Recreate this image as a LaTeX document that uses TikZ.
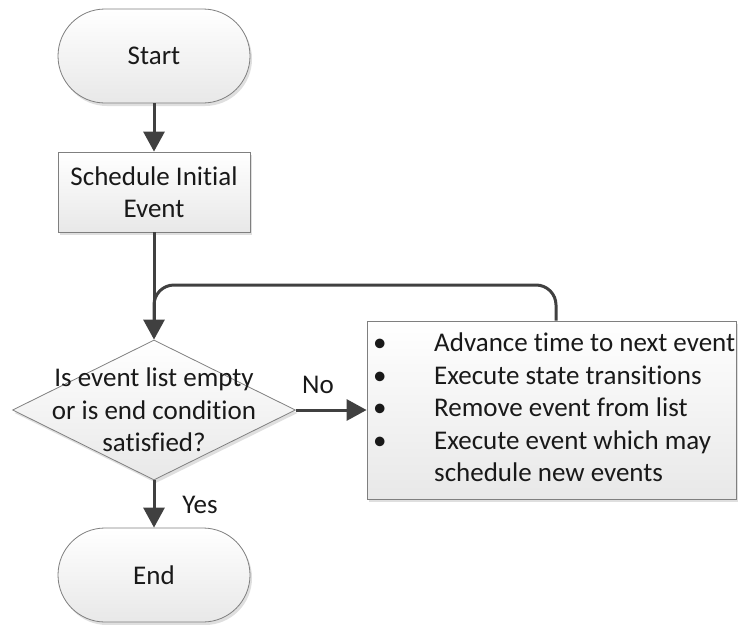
\documentclass[tikz,border=0pt]{standalone}
\usepackage{fontspec}
\setmainfont[Ligatures=NoCommon]{Carlito}
\usetikzlibrary{shapes.geometric,arrows.meta,shadows,calc}
\definecolor{edge}{HTML}{7F7F7F}
\definecolor{flowc}{HTML}{404040}
\begin{document}
\begin{tikzpicture}[x=1pt,y=-1pt,
  every node/.style={font=\fontsize{27}{32.5}\selectfont, text=black!90},
  boxfill/.style={top color=white, bottom color=black!9, draw=edge, line width=0.8pt,
    drop shadow={shadow xshift=2pt, shadow yshift=-3pt, fill=black!25, opacity=0.5}},
  terminal/.style={boxfill, rectangle, rounded corners=47pt, minimum width=192pt, minimum height=94pt, inner sep=0pt},
  process/.style={boxfill, rectangle, minimum width=192pt, minimum height=80pt, inner sep=0pt, align=center},
  decision/.style={boxfill, diamond, minimum width=283pt, minimum height=140pt, inner sep=0pt},
  flow/.style={draw=flowc, line width=3pt},
  flowarrow/.style={flow, -{Triangle[length=20pt,width=21pt]}},
  tag/.style={inner sep=0pt}]
  \useasboundingbox (0,0) rectangle (738,624);

  \node[terminal] (start) at (154,56) {Start};
  \node[process] (sched) at (154,192) {Schedule Initial\\Event};
  \node[decision] (dec) at (154,410) {};
  \node[tag, align=center] (dectext) at (154,410) {Is event list empty\\or is end condition\\satisfied?};
  \node[boxfill, rectangle, minimum width=369pt, minimum height=178pt, inner sep=0pt] (evt) at (551.5,410) {};
  \node[tag, anchor=west, align=left] (evttext) at (373,410) {%
    \begin{tabular}{@{}p{61pt}@{}l@{}}
      \textbullet & Advance time to next event\\
      \textbullet & Execute state transitions\\
      \textbullet & Remove event from list\\
      \textbullet & Execute event which may\\
                  & schedule new events
    \end{tabular}};
  \node[terminal] (end) at (154,575) {End};

  \coordinate (looptop) at (154,285);
  \coordinate (loopjoin) at (154,320);

  \draw[flowarrow] (start) -- (sched);
  \draw[flowarrow] (sched) -- (dec.north);
  \draw[flow, rounded corners=20pt] (evt.north -| 556,0) |- (looptop) -- (loopjoin);
  \draw[flowarrow] (dec.east) -- (evt.west);
  \draw[flowarrow] (dec.south) -- (end.north);

  \node[tag] (nolabel) at (318,385) {No};
  \node[tag] (yeslabel) at (200,505) {Yes};
\end{tikzpicture}
\end{document}
